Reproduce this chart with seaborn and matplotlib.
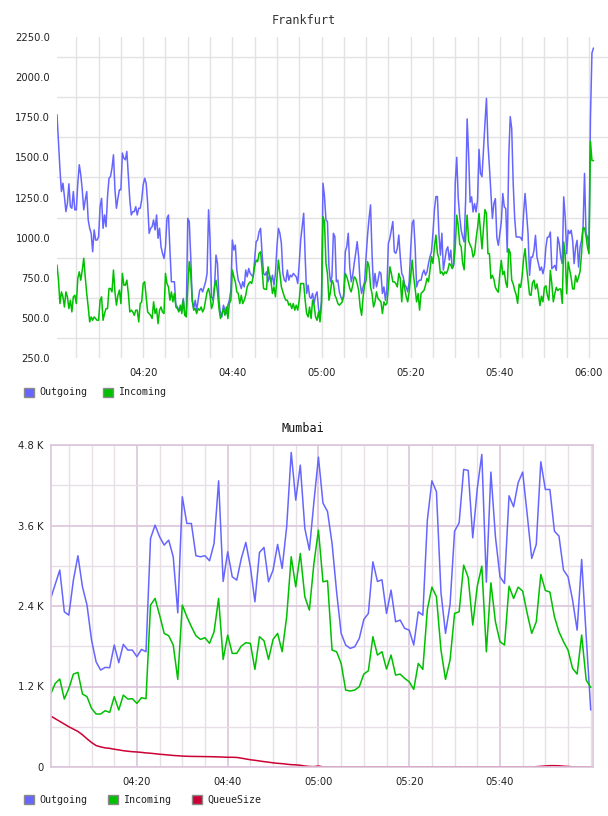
import matplotlib
matplotlib.use("Agg")
import pandas as pd
import matplotlib.pyplot as plt
import matplotlib.dates as mdates
from matplotlib.ticker import FixedLocator
from matplotlib.patches import Patch
import seaborn as sns

# ---------------- data ----------------
series_names = ["Outgoing", "Incoming", "QueueSize"]

fra_out = [
    1766,1589,1423,1287,1339,1256,1162,1214,1335,1193,
    1183,1287,1173,1173,1339,1454,1391,1298,1173,1235,
    1287,1110,1058,1027,912,1048,985,985,1006,1193,
    1245,1058,1141,1068,1256,1370,1381,1433,1516,1298,
    1183,1245,1298,1298,1527,1495,1485,1537,1381,1235,
    1141,1162,1162,1193,1141,1183,1183,1235,1329,1370,
    1339,1214,1027,1058,1068,1110,1048,1141,996,1058,
    943,902,870,943,1120,1141,922,725,725,725,
    579,568,548,548,568,620,516,527,1120,1100,
    881,610,558,610,548,610,672,683,662,693,
    725,777,1173,985,631,610,693,891,839,610,
    527,506,579,548,527,579,610,672,985,923,
    954,798,735,714,683,725,693,798,756,808,
    777,766,756,860,975,985,1037,1058,902,777,
    766,787,725,766,725,766,704,777,943,1058,
    1027,964,777,735,725,798,735,766,756,777,
    766,756,714,839,985,1068,1152,881,652,704,
    631,621,652,589,641,662,558,506,610,
    1339,1256,1110,1100,818,725,756,1027,1006,725,
    735,662,631,610,631,912,943,1027,818,725,
    766,839,902,975,881,714,652,693,725,881,
    1016,1120,1204,902,683,777,693,735,787,777,
    652,693,610,683,964,996,1048,1100,912,902,
    933,1016,881,777,756,704,693,662,725,922,
    1089,1110,943,693,725,735,735,777,798,766,
    787,839,881,912,1027,1173,1256,1256,1027,891,
    1027,798,860,922,943,860,922,808,829,1339,
    1500,1250,1130,1046,1004,973,1233,1740,1520,1220,
    1254,1160,1212,1160,1233,1550,1400,1380,1550,1712,
    1868,1587,1440,1280,1119,1212,1243,1000,952,1025,
    1098,1275,1191,1181,910,1500,1754,1680,1337,1120,
    1004,1004,1004,1000,983,1150,1275,1150,1025,765,
    879,879,921,1014,879,838,796,817,775,817,
    941,1002,1004,1035,806,817,827,796,1004,962,
    879,838,1254,1129,900,1046,1025,1046,983,838,
    941,983,817,941,983,1060,1400,1025,1004,941,
    1750,2150,2181,
]

fra_in = [
    829,735,589,662,631,568,662,631,558,610,
    537,631,641,589,746,787,735,798,871,756,
    652,568,475,506,485,506,496,485,485,610,
    631,485,527,558,558,683,683,662,798,662,
    579,641,673,589,777,704,704,735,652,537,
    548,537,516,548,548,475,589,600,714,725,
    631,537,527,516,496,600,527,558,464,548,
    568,537,527,777,714,693,610,662,600,652,
    568,558,537,579,527,610,516,506,693,850,
    777,610,548,558,527,558,548,568,537,558,
    610,662,683,641,558,589,693,735,662,558,
    496,527,558,516,568,496,589,610,798,756,
    725,662,652,589,641,589,610,641,693,714,
    725,714,756,818,860,850,902,912,808,683,
    679,677,818,766,725,652,693,631,746,860,
    777,693,662,631,610,610,579,589,558,589,
    548,579,548,610,714,714,714,610,527,506,
    568,496,610,579,506,485,537,475,589,
    1131,1100,839,777,610,662,735,714,641,621,
    589,579,589,600,652,777,756,725,683,662,
    704,756,746,714,672,568,516,631,704,735,
    850,818,693,652,568,600,662,621,610,600,
    527,600,579,589,693,818,777,725,725,714,
    693,777,746,600,735,683,631,600,662,756,
    860,756,683,600,652,548,652,662,672,704,
    746,725,798,881,839,943,1016,902,870,777,
    787,766,787,777,798,839,829,808,839,943,
    1140,1075,960,942,840,800,1000,1140,980,955,
    935,879,900,990,1060,1150,1040,930,1060,1175,
    1150,900,900,745,765,740,690,672,660,775,
    858,770,790,720,690,930,905,735,712,671,
    645,590,710,690,760,870,931,817,733,645,
    640,720,735,680,712,650,577,635,600,690,
    700,640,610,796,712,600,650,690,670,680,
    680,590,973,890,650,848,800,750,680,680,
    764,723,754,790,900,1060,1060,1010,940,900,
    1600,1480,1480,
]

mum_out = [
    2513,2724,2935,2314,2264,2786,3149,2686,2414,1892,
    1569,1445,1485,1480,1818,1555,1828,1743,1743,1644,
    1753,1719,3407,3606,3432,3308,3382,3134,2299,4028,
    3630,3630,3149,3134,3149,3074,3332,4266,2766,3208,
    2836,2786,3109,3348,2985,2463,3198,3273,2761,2935,
    3318,2960,3581,4689,3978,4500,3556,3233,
    3950,4619,3933,3809,3332,2612,1992,1818,1768,1793,
    1917,2200,2289,3059,2766,2791,2289,2637,2165,2190,
    2066,2041,1818,2314,2264,3680,4266,4103,2600,1992,
    2424,3516,3640,4436,4421,3417,4152,4659,2756,4396,
    3432,2836,2736,4043,3879,4237,4396,3765,3109,3318,
    4550,4137,4137,3516,3442,2935,2836,2488,2041,3094,
    1950,849,
]

mum_in = [
    1088,1246,1311,1013,1172,1385,1410,1088,1048,874,
    790,790,839,814,1048,849,1072,1013,1018,948,
    1033,1018,2414,2513,2264,1992,1957,1818,1306,2414,
    2240,2091,1957,1902,1927,1843,2016,2513,1604,1967,
    1694,1694,1803,1853,1843,1455,1942,1882,1604,1902,
    1992,1719,2240,3134,2686,3183,2538,2339,
    3034,3531,2761,2776,1743,1718,1544,1147,1132,1147,
    1197,1385,1435,1942,1669,1718,1460,1669,1370,1385,
    1321,1271,1157,1544,1455,2349,2681,2538,1743,1306,
    1594,2289,2314,3009,2825,2116,2696,2994,1718,2746,
    2165,1868,1818,2696,2513,2681,2622,2289,1992,2165,
    2870,2632,2607,2240,2016,1868,1743,1470,1385,1967,
    1296,1187,
]

mum_queue = [
    760,720,680,640,600,565,530,480,420,365,
    320,300,285,278,265,255,243,235,228,224,
    218,210,205,198,190,185,178,172,168,163,
    160,158,157,156,155,154,152,150,148,145,
    145,142,132,120,108,100,90,80,72,62,
    55,50,42,35,32,25,15,8,
    5,15,2,0,0,0,0,0,0,0,
    0,0,0,0,0,0,0,0,0,0,
    0,0,0,0,0,0,0,0,0,0,
    0,0,0,0,0,0,0,0,0,0,
    0,0,0,0,0,0,0,0,0,5,
    10,15,20,20,18,12,8,3,0,0,
    0,0,
]

fra_yticks = [250, 500, 750, 1000, 1250, 1500, 1750, 2000, 2250]
fra_ylabels = ["250.0", "500.0", "750.0", "1000.0", "1250.0", "1500.0",
               "1750.0", "2000.0", "2250.0"]
fra_ygrid = [375, 625, 875, 1125, 1375, 1625, 1875, 2125]
mum_yticks = [0, 1200, 2400, 3600, 4800]
mum_ylabels = ["0", "1.2 K", "2.4 K", "3.6 K", "4.8 K"]
mum_ygrid = [600, 1800, 3000, 4200]
mum_xlabels = ["04:20", "04:40", "05:00", "05:20", "05:40"]

# ---------------- frames ----------------
day = "2024-01-01 "
fra_time = pd.date_range(day + "04:00:40", periods=len(fra_out), freq="20s")
mum_time = pd.date_range(day + "04:01:00", periods=len(mum_out), freq="60s")

fra_df = pd.concat([
    pd.DataFrame({"time": fra_time, "value": fra_out, "series": "Outgoing"}),
    pd.DataFrame({"time": fra_time, "value": fra_in, "series": "Incoming"}),
])
mum_df = pd.concat([
    pd.DataFrame({"time": mum_time, "value": mum_out, "series": "Outgoing"}),
    pd.DataFrame({"time": mum_time, "value": mum_in, "series": "Incoming"}),
    pd.DataFrame({"time": mum_time, "value": mum_queue, "series": "QueueSize"}),
])

# ---------------- style ----------------
sns.set_theme(style="white")
plt.rcParams['font.family'] = ['DejaVu Sans']

palette = {"Outgoing": "#6666ff", "Incoming": "#00c000", "QueueSize": "#cc0033"}
TXT = "#222222"
GRID = "#e2e2e2"
PINK = "#dcc6dc"
MINOR = "#e6e0e6"

W, H = 608, 816
fig = plt.figure(figsize=(W / 100, H / 100), dpi=100)


def rect(l, t, r, b):
    return [l / W, 1 - b / H, (r - l) / W, (b - t) / H]


# ---------------- Frankfurt ----------------
ax1 = fig.add_axes(rect(57, 37, 608, 358))
sns.lineplot(data=fra_df, x="time", y="value", hue="series", palette=palette,
             estimator=None, sort=False, linewidth=1.1, legend=False, ax=ax1)
ax1.set_xlim(pd.Timestamp(day + "04:00:40"), pd.Timestamp(day + "06:04:16"))
ax1.set_ylim(250, 2250)
ax1.xaxis.set_major_locator(mdates.MinuteLocator(byminute=[0, 20, 40]))
ax1.xaxis.set_minor_locator(mdates.MinuteLocator(byminute=list(range(0, 60, 5))))
ax1.xaxis.set_major_formatter(mdates.DateFormatter("%H:%M"))
ax1.yaxis.set_major_locator(FixedLocator(fra_yticks))
ax1.set_yticklabels(fra_ylabels)
ax1.yaxis.set_minor_locator(FixedLocator(fra_ygrid))
ax1.set_axisbelow(True)
ax1.grid(False)
ax1.xaxis.grid(True, which="both", color=GRID, linewidth=1)
ax1.yaxis.grid(True, which="minor", color=GRID, linewidth=1)
for s in ax1.spines.values():
    s.set_visible(False)
ax1.tick_params(axis="both", which="both", length=0, labelsize=7.2, labelcolor=TXT)
ax1.tick_params(axis="x", pad=7.5)
ax1.tick_params(axis="y", pad=5)
ax1.set_xlabel("")
ax1.set_ylabel("")

fig.text(304 / W, 1 - 20 / H, "Frankfurt", ha="center", va="center",
         family="DejaVu Sans Mono", fontsize=8.5, color="#333333")

# ---------------- Mumbai ----------------
ax2 = fig.add_axes(rect(50.7, 445, 593, 767))
sns.lineplot(data=mum_df, x="time", y="value", hue="series", palette=palette,
             estimator=None, sort=False, linewidth=1.1, legend=False, ax=ax2)
ax2.set_xlim(pd.Timestamp(day + "04:01:00"), pd.Timestamp(day + "06:00:30"))
ax2.set_ylim(0, 4800)
ax2.xaxis.set_major_locator(FixedLocator(
    [mdates.date2num(pd.Timestamp(day + t)) for t in mum_xlabels]))
ax2.xaxis.set_minor_locator(mdates.MinuteLocator(byminute=list(range(0, 60, 5))))
ax2.xaxis.set_major_formatter(mdates.DateFormatter("%H:%M"))
ax2.yaxis.set_major_locator(FixedLocator(mum_yticks))
ax2.set_yticklabels(mum_ylabels)
ax2.yaxis.set_minor_locator(FixedLocator(mum_ygrid))
ax2.set_axisbelow(True)
ax2.grid(False)
ax2.xaxis.grid(True, which="minor", color=MINOR, linewidth=1)
ax2.yaxis.grid(True, which="minor", color=MINOR, linewidth=1)
ax2.xaxis.grid(True, which="major", color=PINK, linewidth=1.2)
ax2.yaxis.grid(True, which="major", color=PINK, linewidth=1.2)
for s in ax2.spines.values():
    s.set_visible(True)
    s.set_color(PINK)
    s.set_linewidth(1.2)
ax2.tick_params(axis="both", which="both", length=0, labelsize=7.2, labelcolor=TXT)
ax2.tick_params(axis="x", pad=7)
ax2.tick_params(axis="y", pad=5)
ax2.set_xlabel("")
ax2.set_ylabel("")

fig.text(303 / W, 1 - 428 / H, "Mumbai", ha="center", va="center",
         family="DejaVu Sans Mono", fontsize=8.5, color="#111111")

# ---------------- legends ----------------
def make_legend(names, y, spacing):
    handles = [Patch(facecolor=palette[n], edgecolor="#8a8a8a", linewidth=1)
               for n in names]
    fig.legend(handles, names, loc="center left",
               bbox_to_anchor=(24 / W, 1 - y / H), ncol=len(names),
               frameon=False, borderaxespad=0, borderpad=0,
               handlelength=1.0, handleheight=1.0, handletextpad=0.5,
               columnspacing=spacing,
               prop={"family": "DejaVu Sans Mono", "size": 7.2},
               labelcolor=TXT)


make_legend(series_names[:2], 392.5, 1.6)
make_legend(series_names, 800, 2.1)

fig.savefig("out.png", dpi=100)
